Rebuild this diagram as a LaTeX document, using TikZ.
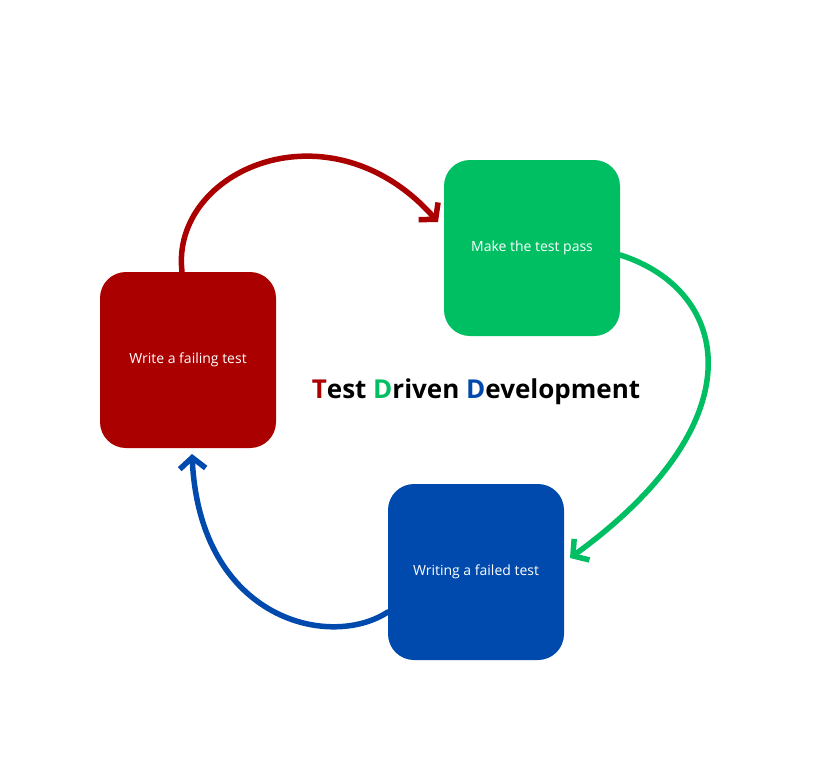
\documentclass[tikz,border=0pt]{standalone}
\usepackage{fontspec}
\setmainfont{Open Sans}
\usetikzlibrary{arrows.meta}
\definecolor{tddred}{HTML}{AA0000}
\definecolor{tddgreen}{HTML}{00BF63}
\definecolor{tddblue}{HTML}{004AAD}
\begin{document}
\begin{tikzpicture}[x=1pt,y=-1pt,
    stepbox/.style={minimum width=176pt, minimum height=176pt, rounded corners=26pt,
        text=white, font=\fontsize{14}{16}\selectfont, inner sep=0pt},
    cyc/.style={line width=5.5pt, line cap=round, -{Straight Barb[length=11pt,width=26pt,line width=5.5pt]}}]
    \useasboundingbox[fill=white] (0,0) rectangle (826,760);
    % the three steps
    \node[stepbox, fill=tddred] (fail) at (188,360) {Write a failing test};
    \node[stepbox, fill=tddgreen] (pass) at (532,248) {Make the test pass};
    \node[stepbox, fill=tddblue] (failed) at (476,572) {Writing a failed test};
    \node[font=\fontsize{26}{30}\selectfont\bfseries] (title) at (476,392)
        {\textcolor{tddred}{T}est \textcolor{tddgreen}{D}riven \textcolor{tddblue}{D}evelopment};
    % cycle arrows
    \draw[cyc, tddred] (fail.north -| 182,0) .. controls (170,170) and (330,100) .. (438,222);
    \draw[cyc, tddgreen] (pass.east |- 0,255) .. controls (730,290) and (760,420) .. (570,558);
    \draw[cyc, tddblue] (failed.west |- 0,612) .. controls (330,650) and (200,620) .. (192,454);
\end{tikzpicture}
\end{document}
